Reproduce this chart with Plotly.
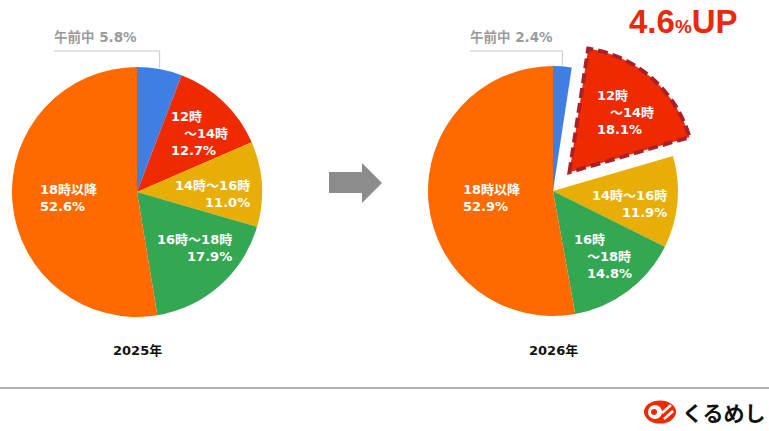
import math
import plotly.graph_objects as go

# ---------------- data ----------------
categories = ["午前中", "12時～14時", "14時～16時", "16時～18時", "18時以降"]
values_2025 = [5.8, 12.7, 11.0, 17.9, 52.6]
values_2026 = [2.4, 18.1, 11.9, 14.8, 52.9]
years = ["2025年", "2026年"]
highlight_index = 1          # 12時～14時 slice pulled out in 2026
increase_label = "4.6"
colors = ["#3f7fe4", "#ef2a00", "#e8ae06", "#34a753", "#ff6a00"]

# ---------------- layout helpers ----------------
W, H = 769, 431
FONT = "Noto Sans CJK JP"
LBL_FONT = "DejaVu Sans, Noto Sans CJK JP"
SP = "\u3000"


def px(x):
    return x / W


def py(y):
    return 1 - y / H


R = 125
PULL = 0.2
pies = [
    dict(cx=137, cy=192, values=values_2025, pull=0.0, year=years[0]),
    dict(cx=553, cy=191, values=values_2026, pull=PULL, year=years[1]),
]

fig = go.Figure()
shapes = []
annotations = []

for i, p in enumerate(pies):
    side = 2 * R * (1 + p["pull"])
    dom_x = [px(p["cx"] - side / 2), px(p["cx"] + side / 2)]
    dom_y = [py(p["cy"] + side / 2), py(p["cy"] - side / 2)]
    pulls = [0] * len(categories)
    if p["pull"]:
        pulls[highlight_index] = p["pull"]
    fig.add_trace(go.Pie(
        labels=categories, values=p["values"], sort=False, direction="clockwise",
        rotation=0, pull=pulls, textinfo="none", hoverinfo="label+percent",
        marker=dict(colors=colors, line=dict(width=0)),
        domain=dict(x=dom_x, y=dom_y), showlegend=False,
    ))
    total = sum(p["values"])
    starts = []
    acc = 0
    for v in p["values"]:
        starts.append(acc / total * 2 * math.pi)
        acc += v
    # leader line for first (small) slice
    mid = (starts[0] + starts[1]) / 2
    lx = p["cx"] + R * math.sin(mid)
    ly = p["cy"] - R * math.cos(mid)
    lead_y = 51
    left_x = p["cx"] - 83
    shapes.append(dict(type="path", xref="paper", yref="paper",
                       path=f"M{px(left_x)},{py(lead_y)} L{px(lx)},{py(lead_y)} L{px(lx)},{py(ly - 1)}",
                       line=dict(color="#c9c9c9", width=1)))
    annotations.append(dict(x=px(left_x - 1), y=py(37), xref="paper", yref="paper",
                            text=f"{categories[0]} {p['values'][0]:.1f}%", showarrow=False,
                            xanchor="left", yanchor="middle", borderpad=0,
                            font=dict(family=LBL_FONT, size=13.5, color="#9b9b9b", weight="bold")))
    # year label
    annotations.append(dict(x=px(p["cx"]), y=py(350), xref="paper", yref="paper",
                            text=f"{p['year']}", showarrow=False,
                            xanchor="center", yanchor="middle",
                            font=dict(family=LBL_FONT, size=13, color="#111111", weight="bold")))
    # dashed outline for pulled slice
    if p["pull"]:
        s0 = starts[highlight_index]
        s1 = starts[highlight_index + 1]
        m = (s0 + s1) / 2
        ocx = p["cx"] + p["pull"] * R * math.sin(m)
        ocy = p["cy"] - p["pull"] * R * math.cos(m)
        pts = [f"M{px(ocx)},{py(ocy)}"]
        n = 40
        for k in range(n + 1):
            a = s0 + (s1 - s0) * k / n
            pts.append(f"L{px(ocx + R * math.sin(a))},{py(ocy - R * math.cos(a))}")
        pts.append("Z")
        shapes.append(dict(type="path", xref="paper", yref="paper", path=" ".join(pts),
                           line=dict(color="#a9202a", width=4, dash="10px,5px")))


# ---------------- slice labels ----------------
def label_text(cat, v, style):
    pct = f"{v:.1f}%"
    if style == "split":          # "12時" / "　～14時" / "12.7%"
        a, b = cat.split("～")
        return f"{a}<br>{SP}～{b}<br>{pct}"
    if style == "split2":         # "16時" / "　～18時" / "　14.8%"
        a, b = cat.split("～")
        return f"{a}<br>{SP}～{b}<br>{SP}{pct}"
    return f"{cat}<br>{pct}"


# (pie index, category index, style, anchor x px, centre y px, alignment)
label_specs = [
    (0, 1, "split", 170, 133, "left"),
    (0, 2, "inline", 251, 194, "right"),
    (0, 3, "inline", 233, 248, "right"),
    (0, 4, "inline", 39, 198, "left"),
    (1, 1, "split", 596, 113, "left"),
    (1, 2, "inline", 668, 204, "right"),
    (1, 3, "split2", 573, 256, "left"),
    (1, 4, "inline", 462, 198, "left"),
]
for pi, ci, style, x, y, al in label_specs:
    annotations.append(dict(
        x=px(x), y=py(y), xref="paper", yref="paper",
        text=label_text(categories[ci], pies[pi]["values"][ci], style),
        showarrow=False, xanchor=al, yanchor="middle", align=al, borderpad=0,
        font=dict(family=LBL_FONT, size=13, color="white", weight="bold")))

# ---------------- "4.6%UP" ----------------
annotations.append(dict(
    x=px(683), y=py(22), xref="paper", yref="paper", showarrow=False,
    xanchor="center", yanchor="middle",
    text=f"<b>{increase_label}<span style='font-size:19px'>%</span>UP</b>",
    font=dict(family="Liberation Sans", size=33, color="#e82a0c")))

# ---------------- arrow ----------------
arrow = [(329, 172), (362, 172), (362, 163), (382, 183), (362, 203), (362, 193), (329, 193)]
shapes.append(dict(type="path", xref="paper", yref="paper",
                   path="M" + " L".join(f"{px(x)},{py(y)}" for x, y in arrow) + " Z",
                   fillcolor="#8c8c8c", line=dict(width=0)))

# ---------------- rule ----------------
shapes.append(dict(type="line", xref="paper", yref="paper", x0=0, x1=1, y0=py(388), y1=py(388),
                   line=dict(color="#9a9a9a", width=1.5)))

# ---------------- logo ----------------
RED = "#ef2a00"
shapes.append(dict(type="circle", xref="paper", yref="paper", x0=px(644), x1=px(676), y0=py(423.5), y1=py(400.5),
                   fillcolor=RED, line=dict(width=0)))
shapes.append(dict(type="circle", xref="paper", yref="paper", x0=px(648), x1=px(662), y0=py(419), y1=py(405),
                   fillcolor="white", line=dict(width=0)))
shapes.append(dict(type="circle", xref="paper", yref="paper", x0=px(651), x1=px(657), y0=py(415), y1=py(409),
                   fillcolor=RED, line=dict(width=0)))
shapes.append(dict(type="line", xref="paper", yref="paper", x0=px(662), x1=px(671), y0=py(413), y1=py(405),
                   line=dict(color="white", width=2.5)))
shapes.append(dict(type="line", xref="paper", yref="paper", x0=px(664), x1=px(673), y0=py(419), y1=py(411),
                   line=dict(color="white", width=2.5)))
annotations.append(dict(x=px(724), y=py(412), xref="paper", yref="paper", showarrow=False,
                        xanchor="center", yanchor="middle", text="くるめし",
                        font=dict(family=FONT, size=21, color="#111111", weight="bold")))

fig.update_layout(
    width=W, height=H, margin=dict(l=0, r=0, t=0, b=0),
    paper_bgcolor="white", plot_bgcolor="white",
    shapes=shapes, annotations=annotations,
    font=dict(family=FONT),
)

fig.write_html("out.html")
